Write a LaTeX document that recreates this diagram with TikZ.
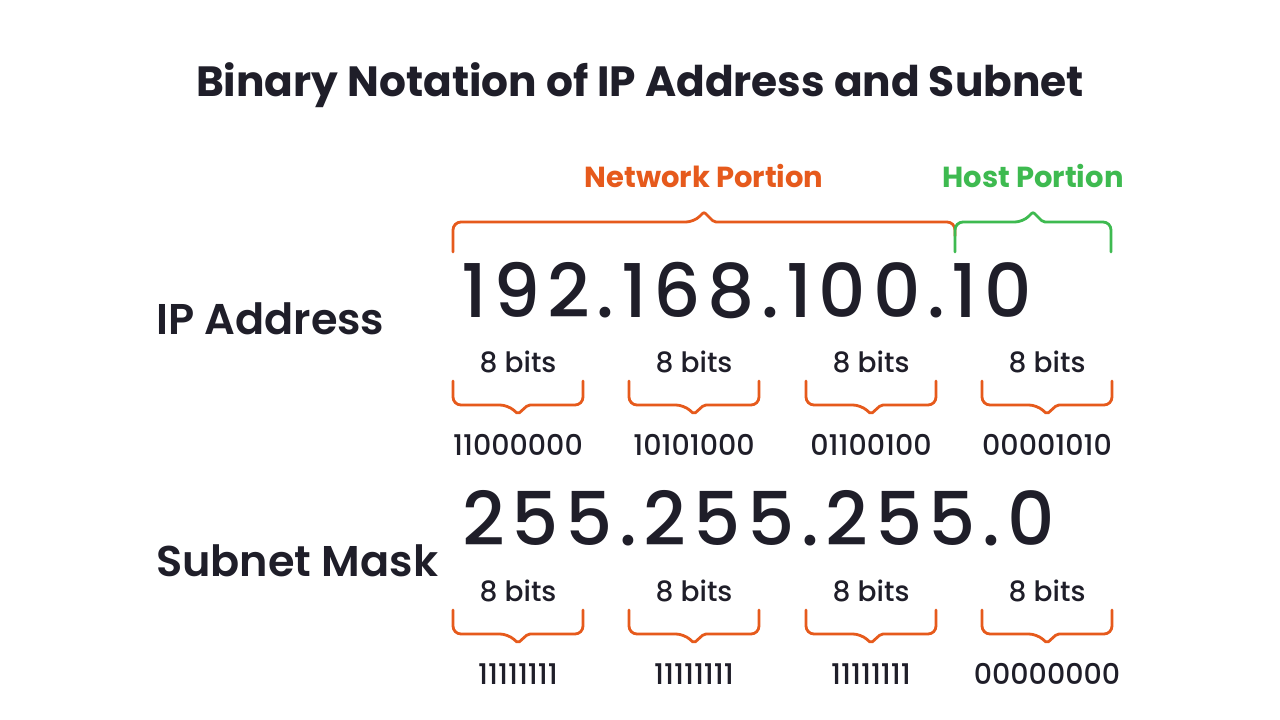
\documentclass[tikz,border=0pt]{standalone}
\usepackage{fontspec}
\setmainfont{Poppins}
\newfontfamily\popmed{Poppins Medium}
\newfontfamily\popnum[LetterSpace=9]{Poppins Medium}
\newfontfamily\popsemi{Poppins SemiBold}
\newfontfamily\popbold{Poppins Bold}
\definecolor{ink}{HTML}{1F1E29}
\definecolor{netorange}{HTML}{E65A1C}
\definecolor{hostgreen}{HTML}{3EBA50}

\begin{document}
\begin{tikzpicture}
[x=1pt,y=-1pt,%
  every node/.style={inner sep=0pt,text=ink,anchor=base},%
  title/.style={font=\popbold\fontsize{42.3}{46}\selectfont},%
  portion/.style={font=\popbold\fontsize{29}{33}\selectfont},%
  rowlbl/.style={font=\popsemi\fontsize{43}{47}\selectfont,anchor=base west},%
  bignum/.style={font=\popnum\fontsize{74}{78}\selectfont,anchor=base west},%
  bitslbl/.style={font=\popmed\fontsize{28}{32}\selectfont},%
  binval/.style={font=\popmed\fontsize{28.5}{32}\selectfont},%
  brace/.style={draw=netorange,line width=2.8pt,line cap=round}]
\fill[white] (0,0) rectangle (1280,720);
\useasboundingbox (0,0) rectangle (1280,720);

\node[title] (head) at (640,96) {Binary Notation of IP Address and Subnet};

% network / host split
\node[portion,text=netorange] (netlbl) at (704,187) {Network Portion};
\node[portion,text=hostgreen] (hostlbl) at (1033,187) {Host Portion};
\draw[brace] (453,252) [rounded corners=8pt] |- (694,222)
  [rounded corners=2pt] -- (704,212) -- (714,222)
  [rounded corners=8pt] -| (955,236);
\draw[brace,draw=hostgreen] (955,252) [rounded corners=8pt] |- (1023,222)
  [rounded corners=2pt] -- (1033,212) -- (1043,222)
  [rounded corners=8pt] -| (1111,252);

% IP address
\node[rowlbl] (iplbl) at (156,334) {IP Address};
\node[bignum] (ipnum) at (461,317) {192.168.100.10};
\foreach \c/\x/\b in {1/518/11000000,2/694/10101000,3/871/01100100,4/1047/00001010} {
  \node[bitslbl] (ipbits\c) at (\x,372) {8 bits};
  \draw[brace] (\x-65,381) [rounded corners=8pt] |- (\x-10,405)
    [rounded corners=2pt] -- (\x,414) -- (\x+10,405)
    [rounded corners=8pt] -| (\x+65,381);
  \node[binval] (ipbin\c) at (\x,455) {\b};
}

% subnet mask
\node[rowlbl] (masklbl) at (156,576) {Subnet Mask};
\node[bignum] (masknum) at (462,545) {255.255.255.0};
\foreach \c/\x/\b in {1/518/11111111,2/694/11111111,3/871/11111111,4/1047/00000000} {
  \node[bitslbl] (maskbits\c) at (\x,601) {8 bits};
  \draw[brace] (\x-65,610) [rounded corners=8pt] |- (\x-10,634)
    [rounded corners=2pt] -- (\x,643) -- (\x+10,634)
    [rounded corners=8pt] -| (\x+65,610);
  \node[binval] (maskbin\c) at (\x,684) {\b};
}
\end{tikzpicture}
\end{document}
